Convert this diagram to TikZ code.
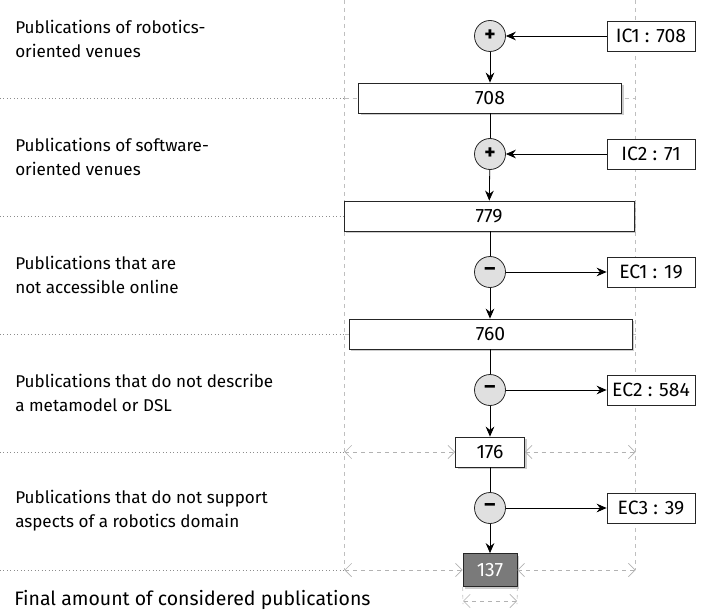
\documentclass[tikz,border=0pt]{standalone}
\usepackage{fontspec}
\setmainfont{Fira Sans}
\usetikzlibrary{arrows.meta,positioning,shadows}

\begin{document}
\begin{tikzpicture}[x=0.75pt,y=-0.75pt,
  font=\fontsize{12.8}{18}\selectfont,
  countbox/.style={draw=black!85, fill=white, line width=0.6pt, minimum height=22.5pt, inner sep=0pt,
    font=\fontsize{14.5}{16}\selectfont,
    drop shadow={shadow xshift=1.8pt, shadow yshift=-1.8pt, fill=black!40}},
  sidebox/.style={draw=black!85, fill=white, line width=0.6pt, minimum width=66pt, minimum height=22.5pt, inner sep=0pt,
    font=\fontsize{14.5}{16}\selectfont},
  opnode/.style={circle, draw=black!85, fill=black!12, line width=0.6pt, minimum size=23.25pt, inner sep=0pt,
    font=\fontsize{16}{16}\selectfont\bfseries},
  flow/.style={line width=0.6pt, -{Stealth[length=7.5pt,width=6.5pt,inset=2.5pt]}},
  stem/.style={line width=0.6pt},
  guide/.style={black!25, dashed, line width=0.5pt},
  dim/.style={black!30, dashed, line width=0.5pt, {Straight Barb[length=5pt,width=10pt]}-{Straight Barb[length=5pt,width=10pt]}},
  sep/.style={black!45, dotted, line width=0.6pt},
  stage/.style={anchor=west, align=left, inner sep=0pt}]
\useasboundingbox (0,0) rectangle (706,613);

% Guide lines
\coordinate (gtl) at (344.5,0);
\coordinate (gtr) at (635.5,0);
\coordinate (gbl) at (344.5,570);
\coordinate (gbr) at (635.5,570);
\draw[guide] (gtl) -- (gbl);
\draw[guide] (gtr) -- (gbr);
\draw[guide] (344.5,98) -- (635.5,98);
\draw[guide] (344.5,216) -- (635.5,216);
\draw[guide] (344.5,334) -- (635.5,334);

% Separators
\draw[sep] (0,98) -- (344.5,98);
\draw[sep] (0,216) -- (344.5,216);
\draw[sep] (0,334) -- (344.5,334);
\draw[sep] (0,452) -- (344.5,452);
\draw[sep] (0,570) -- (344.5,570);

% Stage texts
\node[stage] (t1) at (15,39) {Publications of robotics-\\oriented venues};
\node[stage] (t2) at (15,157) {Publications of software-\\oriented venues};
\node[stage] (t3) at (15,275) {Publications that are\\not accessible online};
\node[stage] (t4) at (15,393) {Publications that do not describe\\a metamodel or DSL};
\node[stage] (t5) at (15,511) {Publications that do not support\\aspects of a robotics domain};
\node[stage, font=\fontsize{14.6}{18}\selectfont] (t6) at (14,600) {Final amount of considered publications};

% Operations
\node[opnode] (c1) at (490,36) {+};
\node[opnode] (c2) at (490,154) {+};
\node[opnode] (c3) at (490,272) {–};
\node[opnode] (c4) at (490,390) {–};
\node[opnode] (c5) at (490,508) {–};

% Criteria
\node[sidebox] (ic1) at (651,36) {IC1 : 708};
\node[sidebox] (ic2) at (651,154) {IC2 : 71};
\node[sidebox] (ec1) at (651,272) {EC1 : 19};
\node[sidebox] (ec2) at (651,390) {EC2 : 584};
\node[sidebox] (ec3) at (651,508) {EC3 : 39};

% Counts
\node[countbox, minimum width=197.25pt] (n708) at (490,98) {708};
\node[countbox, minimum width=217.5pt] (n779) at (489,216) {779};
\node[countbox, minimum width=212.25pt] (n760) at (490.5,334) {760};
\node[countbox, minimum width=51.75pt] (n176) at (490,452) {176};
\node[countbox, minimum width=40.5pt, minimum height=24.75pt, fill=black!52, text=white] (n137) at (490,570) {137};

% Width markers
\draw[dim] (344.5,452) -- (n176.west);
\draw[dim] (n176.east) -- (635.5,452);
\draw[dim] (gbl) -- (n137.west);
\draw[dim] (n137.east) -- (gbr);
\coordinate (m1) at (463,604);
\coordinate (m2) at (517,604);
\draw[guide] (n137.south west) -- (m1);
\draw[guide] (n137.south east) -- (m2);
\draw[dim] (463,601) -- (517,601);

% Flow
\draw[flow] (ic1) -- (c1);
\draw[flow] (ic2) -- (c2);
\draw[flow] (c3) -- (ec1);
\draw[flow] (c4) -- (ec2);
\draw[flow] (c5) -- (ec3);
\draw[flow] (c1) -- (n708);
\draw[stem] (n708) -- (c2);
\draw[flow] (c2) -- (n779);
\draw[stem] (n779.south -| c3) -- (c3);
\draw[flow] (c3) -- (n760.north -| c3);
\draw[stem] (n760.south -| c4) -- (c4);
\draw[flow] (c4) -- (n176);
\draw[stem] (n176) -- (c5);
\draw[flow] (c5) -- (n137);
\end{tikzpicture}
\end{document}
